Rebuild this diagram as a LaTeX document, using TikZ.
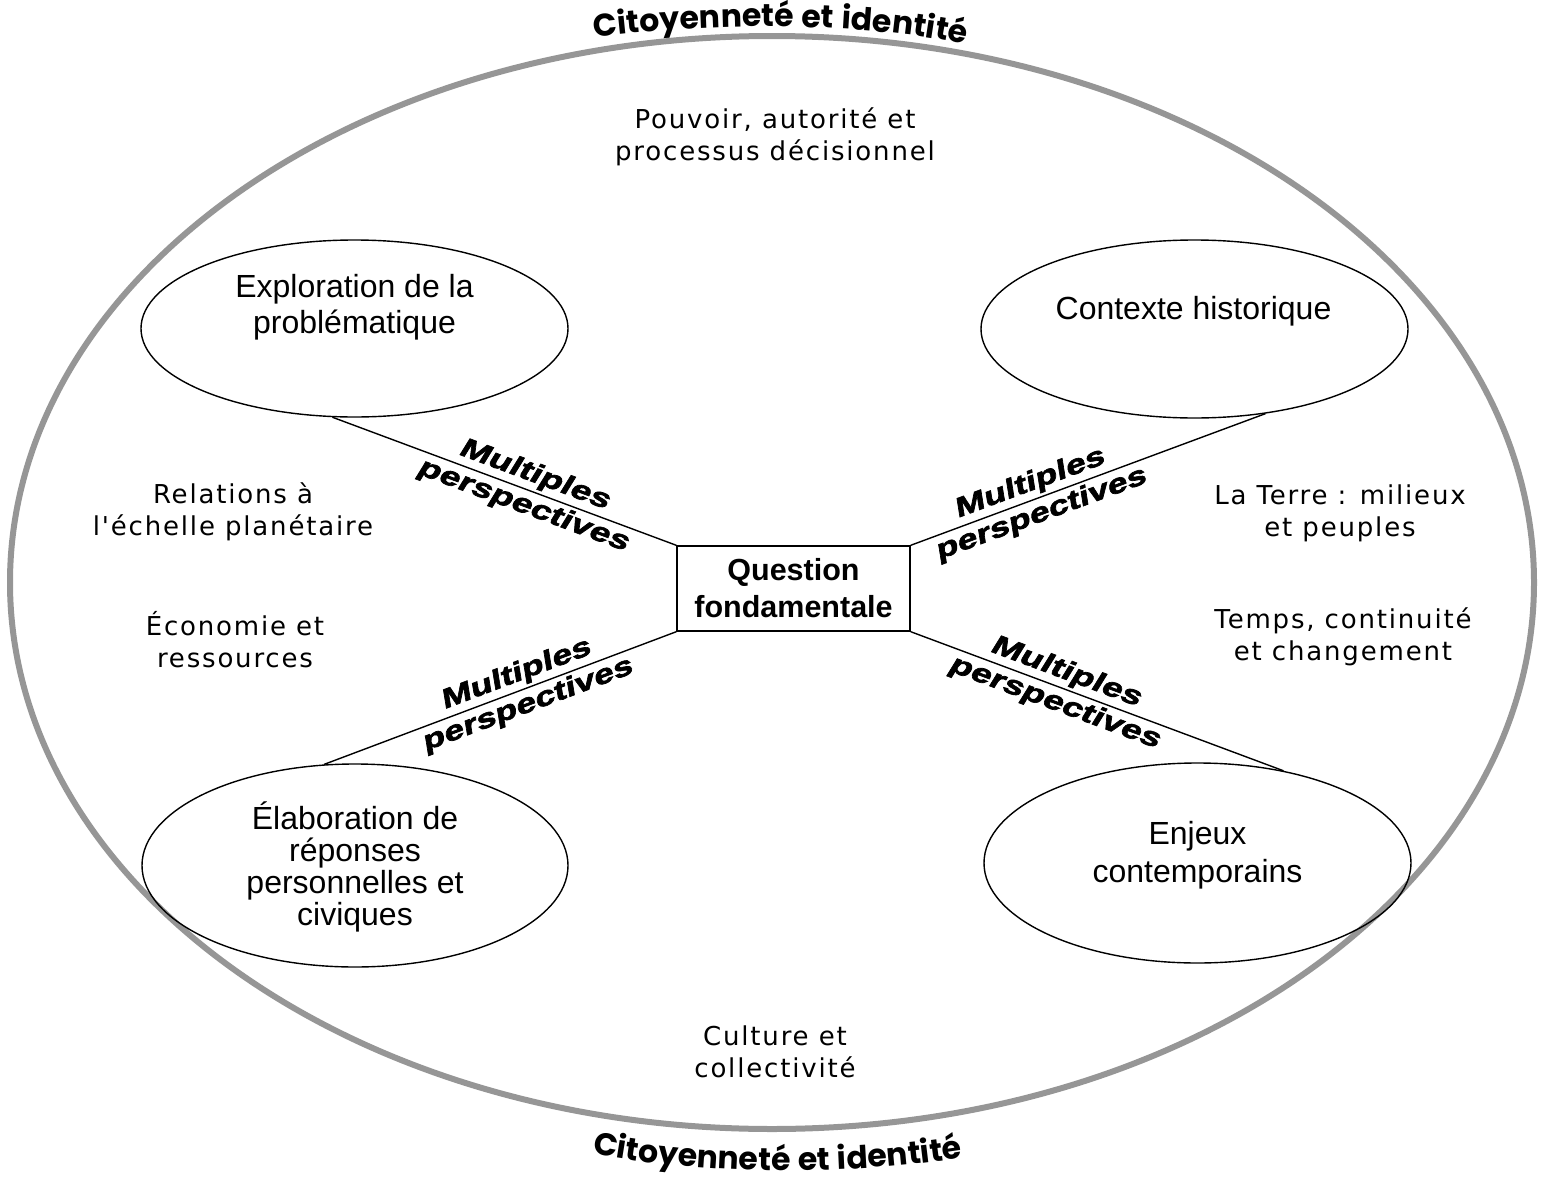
\documentclass[tikz,border=0pt]{standalone}
\usepackage{fontspec}
\setmainfont{Liberation Sans}
\newfontfamily\themefont[LetterSpace=7]{DejaVu Sans}
\newfontfamily\mpfont[FakeSlant=0.2,FakeStretch=1.35,BoldFeatures={FakeBold=2.5}]{Liberation Sans}
\newfontfamily\titlefont[LetterSpace=3]{Poppins}
\usetikzlibrary{shapes.geometric,decorations.text}
\definecolor{ringgray}{RGB}{150,150,150}
\tikzset{
 bubble/.style={draw, ellipse, line width=1.4pt, minimum width=427pt, inner sep=0pt},
 bubbletext/.style={align=center, font=\fontsize{32}{36}\selectfont, inner sep=0pt},
 theme/.style={align=center, font=\themefont\fontsize{26}{32}\selectfont, inner sep=0pt},
 conn/.style={line width=1.4pt},
 mp/.style={font=\mpfont\bfseries\fontsize{27}{29}\selectfont, sloped, inner sep=3pt},
 titlepath/.style={decorate, decoration={text along path, text align=center,
   text={|\titlefont\bfseries\fontsize{31.5}{33}\selectfont|Citoyenneté et identité}}},
}
\begin{document}
\begin{tikzpicture}[x=1pt,y=-1pt]
\useasboundingbox (0,0) rectangle (1543,1183);
\node[draw=ringgray, line width=6pt, ellipse, minimum width=1524pt, minimum height=1093pt, inner sep=0pt] (ring) at (772,582.5) {};

\node[bubble, minimum height=177pt] (expl) at (354.5,328.5) {};
\node[bubble, minimum height=178pt] (ctx) at (1194.5,329) {};
\node[bubble, minimum height=203pt, minimum width=426pt] (elab) at (355,865.5) {};
\node[bubble, minimum height=200pt] (enj) at (1197.5,863) {};
\node[draw, line width=1.4pt, minimum width=233pt, minimum height=85pt, align=center,
  font=\bfseries\fontsize{30.5}{37}\selectfont, inner sep=0pt] (q) at (793.5,588.5) {Question\\fondamentale};

\node[bubbletext] (explT) at (354.5,307.5) {Exploration de la\\problématique};
\node[bubbletext] (ctxT) at (1193.5,311) {Contexte historique};
\node[bubbletext, font=\fontsize{32}{32}\selectfont] (elabT) at (355,867) {Élaboration de\\réponses\\personnelles et\\civiques};
\node[bubbletext, font=\fontsize{32}{38}\selectfont] (enjT) at (1197.5,855) {Enjeux\\contemporains};

\node[theme] (pouv) at (775,137) {Pouvoir, autorité et\\processus décisionnel};
\node[theme] (rel) at (233,512) {Relations à\\l'échelle planétaire};
\node[theme] (eco) at (235,640) {Économie et\\ressources};
\node[theme] (terre) at (1340,513) {La Terre : milieux\\et peuples};
\node[theme] (temps) at (1343,637) {Temps, continuité\\et changement};
\node[theme] (cult) at (775,1052) {Culture et\\collectivité};

\draw[conn] (expl.256) -- (q.north west)
  node[mp, pos=0.57, above] (mp1a) {Multiples}
  node[mp, pos=0.57, below] (mp1b) {perspectives};
\draw[conn] (ctx.310) -- (q.north east)
  node[mp, pos=0.65, above] (mp2a) {Multiples}
  node[mp, pos=0.65, below] (mp2b) {perspectives};
\draw[conn] (elab.107.5) -- (q.south west)
  node[mp, pos=0.56, above] (mp3a) {Multiples}
  node[mp, pos=0.56, below] (mp3b) {perspectives};
\draw[conn] (enj.47) -- (q.south east)
  node[mp, pos=0.60, above] (mp4a) {Multiples}
  node[mp, pos=0.60, below] (mp4b) {perspectives};

\path[titlepath] (575,40) .. controls (700,22) and (870,20) .. (985,49);
\path[titlepath] (572,1149) .. controls (690,1177) and (860,1177) .. (983,1154);
\end{tikzpicture}
\end{document}
